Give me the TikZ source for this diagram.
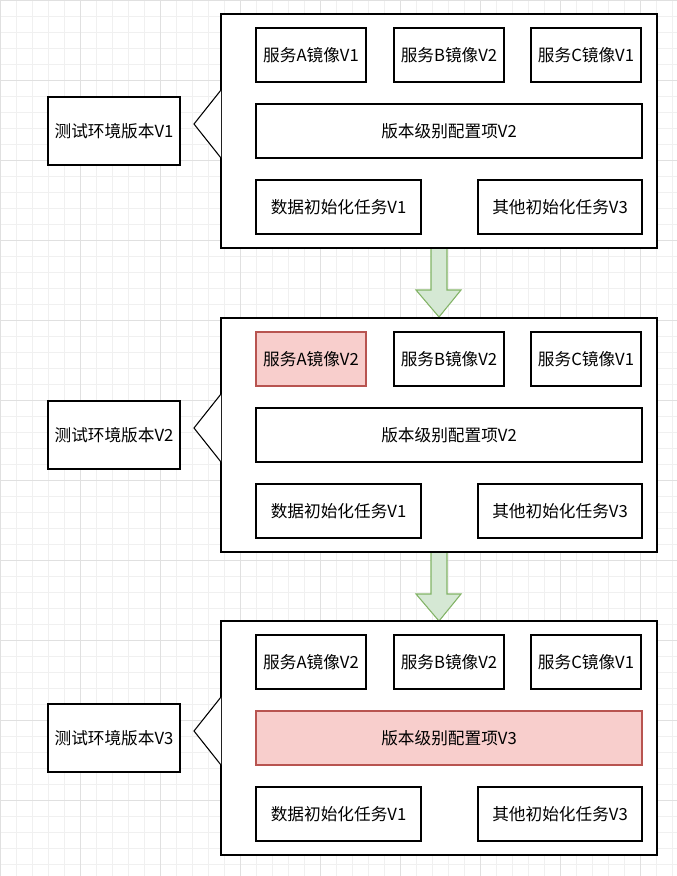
\documentclass[tikz,border=0pt]{standalone}
\usepackage{fontspec}
\setmainfont{Noto Sans CJK SC}
\usetikzlibrary{positioning}
\definecolor{redfill}{HTML}{F8CECC}
\definecolor{reddraw}{HTML}{B85450}
\definecolor{greenfill}{HTML}{D5E8D4}
\definecolor{greendraw}{HTML}{82B366}
\tikzset{
  item/.style={draw, thick, fill=white, inner sep=0pt, font=\fontsize{12.5}{14}\selectfont},
  changed/.style={item, fill=redfill, draw=reddraw},
  stage/.style={draw, thick, fill=white},
  nextstep/.style={draw=greendraw, fill=greenfill, thick}
}
\newcommand{\stagebox}[3]{% offset, suffix, label
  \begin{scope}[yshift=-#1*0.75pt]
    \node[stage, minimum width=436*0.75pt, minimum height=234*0.75pt] (S#2) at (439,-131) {};
    \node[item, minimum width=132*0.75pt, minimum height=68*0.75pt] (L#2) at (114,-131) {#3};
    \draw[thick, fill=white] (221,-90) -- (194,-124) -- (221,-158);
  \end{scope}}
\begin{document}
\begin{tikzpicture}[x=0.75pt, y=0.75pt]
\useasboundingbox (0,0) rectangle (677,-876);
% grid
\draw[black!6] (0,0) grid[step=16*0.75pt] (677,-876);
\draw[black!12] (0,0) grid[step=80*0.75pt] (677,-876);
% arrows between stages
\foreach \t in {248,552} {
  \draw[nextstep] (431,-\t) -- (447,-\t) -- (447,-\t-42) -- (461,-\t-42) -- (439,-\t-69)
    -- (416,-\t-42) -- (431,-\t-42) -- cycle;
}
% stage 1
\stagebox{0}{a}{测试环境版本V1}
\node[item, minimum width=110*0.75pt, minimum height=54*0.75pt] (A1) at (311,-55) {服务A镜像V1};
\node[item, minimum width=110*0.75pt, minimum height=54*0.75pt] (B1) at (449,-55) {服务B镜像V2};
\node[item, minimum width=110*0.75pt, minimum height=54*0.75pt] (C1) at (586,-55) {服务C镜像V1};
\node[item, minimum width=386*0.75pt, minimum height=54*0.75pt] (P1) at (449,-131) {版本级别配置项V2};
\node[item, minimum width=165*0.75pt, minimum height=54*0.75pt] (D1) at (338.5,-207) {数据初始化任务V1};
\node[item, minimum width=164*0.75pt, minimum height=54*0.75pt] (E1) at (560,-207) {其他初始化任务V3};
% stage 2
\stagebox{304}{b}{测试环境版本V2}
\node[changed, minimum width=110*0.75pt, minimum height=54*0.75pt] (A2) at (311,-359) {服务A镜像V2};
\node[item, minimum width=110*0.75pt, minimum height=54*0.75pt] (B2) at (449,-359) {服务B镜像V2};
\node[item, minimum width=110*0.75pt, minimum height=54*0.75pt] (C2) at (586,-359) {服务C镜像V1};
\node[item, minimum width=386*0.75pt, minimum height=54*0.75pt] (P2) at (449,-435) {版本级别配置项V2};
\node[item, minimum width=165*0.75pt, minimum height=54*0.75pt] (D2) at (338.5,-511) {数据初始化任务V1};
\node[item, minimum width=164*0.75pt, minimum height=54*0.75pt] (E2) at (560,-511) {其他初始化任务V3};
% stage 3
\stagebox{607}{c}{测试环境版本V3}
\node[item, minimum width=110*0.75pt, minimum height=54*0.75pt] (A3) at (311,-662) {服务A镜像V2};
\node[item, minimum width=110*0.75pt, minimum height=54*0.75pt] (B3) at (449,-662) {服务B镜像V2};
\node[item, minimum width=110*0.75pt, minimum height=54*0.75pt] (C3) at (586,-662) {服务C镜像V1};
\node[changed, minimum width=386*0.75pt, minimum height=54*0.75pt] (P3) at (449,-738) {版本级别配置项V3};
\node[item, minimum width=165*0.75pt, minimum height=54*0.75pt] (D3) at (338.5,-814) {数据初始化任务V1};
\node[item, minimum width=164*0.75pt, minimum height=54*0.75pt] (E3) at (560,-814) {其他初始化任务V3};
\end{tikzpicture}
\end{document}
